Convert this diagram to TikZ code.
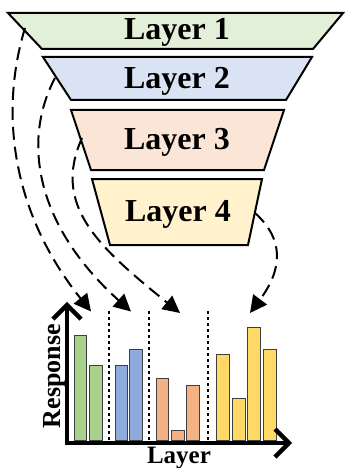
\documentclass[tikz,border=0pt]{standalone}
\usepackage{fontspec}
\setmainfont{Liberation Serif}
\usetikzlibrary{arrows.meta}
\definecolor{paleGreen}{HTML}{E2F0D9}
\definecolor{paleBlue}{HTML}{DAE3F3}
\definecolor{paleOrange}{HTML}{FBE5D6}
\definecolor{paleYellow}{HTML}{FFF2CC}
\definecolor{barGreen}{HTML}{A9D18E}
\definecolor{barBlue}{HTML}{8FAADC}
\definecolor{barOrange}{HTML}{F4B183}
\definecolor{barYellow}{HTML}{FFD966}
\begin{document}
\begin{tikzpicture}[x=1pt,y=-1pt,
  layerbox/.style={draw=black, line width=2pt, line join=miter},
  layertext/.style={font=\bfseries\fontsize{32}{36}\selectfont, anchor=base, inner sep=0pt},
  link/.style={line width=2pt, dash pattern=on 13pt off 7pt,
    -{Triangle[length=17pt,width=17pt]}},
  bar/.style={draw=black!75, line width=0.9pt},
  sep/.style={line width=2pt, dash pattern=on 2.5pt off 3.5pt},
  axis/.style={line width=4.5pt, line join=miter}]
\useasboundingbox (0,0) rectangle (349,468);

% funnel of layers
\filldraw[layerbox, fill=paleGreen]  (8,13) -- (343,13) -- (313,49) -- (42,49) -- cycle;
\filldraw[layerbox, fill=paleBlue]   (43,57) -- (312,57) -- (286,100) -- (71,100) -- cycle;
\filldraw[layerbox, fill=paleOrange] (71,110) -- (284,110) -- (264,170) -- (91,170) -- cycle;
\filldraw[layerbox, fill=paleYellow] (92,179) -- (262,179) -- (248,245) -- (110,245) -- cycle;

\node[layertext] (l1) at (177,39.5) {Layer 1};
\node[layertext] (l2) at (177,88.3) {Layer 2};
\node[layertext] (l3) at (177,149.3) {Layer 3};
\node[layertext] (l4) at (178,221.7) {Layer 4};

% bars of the response chart
\foreach \xa/\xb/\top/\col in {
  74/86.7/335/barGreen, 89.3/102/365/barGreen,
  115/127.7/365/barBlue, 129.7/142.3/349/barBlue,
  156/168.7/378.3/barOrange, 171.3/184/430.7/barOrange, 186.7/199.7/385.3/barOrange,
  216.7/229.3/354.3/barYellow, 232.3/245/398.7/barYellow,
  247.3/260.3/327.3/barYellow, 263/276/349/barYellow}
  \filldraw[bar, fill=\col] (\xa,440.7) rectangle (\xb,\top);

% group separators
\foreach \xs in {109.3,149,207.7}
  \draw[sep] (\xs,311) -- (\xs,440);

% axes
\draw[axis] (67,305) -- (67,443) -- (289,443);
\draw[axis] (53,319) -- (67,305) -- (81,319);
\draw[axis] (275,429) -- (289,443) -- (275,457);

\node[font=\bfseries\fontsize{26}{30}\selectfont, rotate=90, anchor=base, inner sep=0pt]
  (ylab) at (60,376) {Response};
\node[font=\bfseries\fontsize{25}{28}\selectfont, anchor=base, inner sep=0pt]
  (xlab) at (179,463.3) {Layer};

% links from each layer to its group of bars
\coordinate (s1) at (25,28);
\coordinate (s2) at (55,78);
\coordinate (s3) at (82,138);
\coordinate (s4) at (255,213);
\coordinate (t1) at (91,311.5);
\coordinate (t2) at (131,311.5);
\coordinate (t3) at (180,313);
\coordinate (t4) at (250,313);

\draw[link] (s1) .. controls (0,110) and (10,210) .. (t1);
\draw[link] (s2) .. controls (22,140) and (35,225) .. (t2);
\draw[link] (s3) .. controls (52,205) and (97,246) .. (t3);
\draw[link] (s4) .. controls (285,240) and (282,270) .. (t4);
\end{tikzpicture}
\end{document}
